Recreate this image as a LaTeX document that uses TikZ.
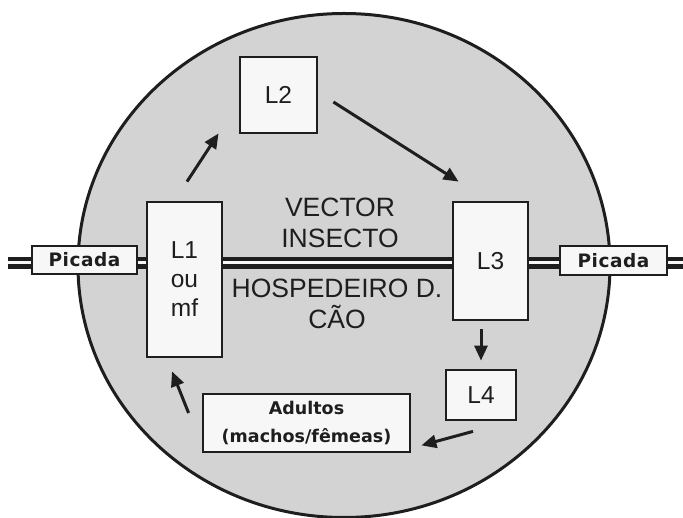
\documentclass[tikz,border=0pt]{standalone}
\usepackage{fontspec}
\setmainfont{Liberation Sans}
\newfontfamily\dejavu{DejaVu Sans}
\usetikzlibrary{arrows.meta}
\definecolor{linec}{HTML}{1E1E1E}
\definecolor{hostc}{HTML}{D3D3D3}
\definecolor{boxc}{HTML}{F7F7F7}
\begin{document}
\begin{tikzpicture}[x=1pt,y=-1pt,
  stage/.style={draw=linec,line width=2.8pt,fill=boxc,inner sep=0pt,align=center,
    font=\fontsize{24.5}{29}\selectfont,text=linec},
  label/.style={draw=linec,line width=2.8pt,fill=boxc,inner sep=0pt,align=center,
    text=linec},
  rail/.style={draw=linec,line width=4.5pt,double=boxc,double distance=3pt},
  arr/.style={draw=linec,line width=3pt,-{Triangle[length=15pt,width=13pt]}},
  txt/.style={align=center,inner sep=0pt,font=\fontsize{26.5}{31}\selectfont,text=linec}]
\useasboundingbox (0,0) rectangle (683,518);
\fill[white] (0,0) rectangle (683,518);
\draw[draw=linec,fill=hostc,line width=3pt] (344,265.5) ellipse [x radius=266, y radius=252];
% nodes
\node[stage,minimum width=77pt,minimum height=76pt] (L2) at (278.5,95) {L2};
\node[stage,minimum width=75pt,minimum height=155pt] (L1) at (184.5,279.5) {L1\\ou\\mf};
\node[stage,minimum width=75pt,minimum height=118pt] (L3) at (490.5,261) {L3};
\node[stage,minimum width=70pt,minimum height=50pt] (L4) at (481,395) {L4};
\node[label,minimum width=207pt,minimum height=58pt,
  font=\dejavu\bfseries\fontsize{17.5}{28}\selectfont] (ad) at (306.5,423) {Adultos\\(machos/fêmeas)};
\node[label,minimum width=105pt,minimum height=28pt,
  font={\dejavu\bfseries\fontsize{18.5}{22}\selectfont\addfontfeature{LetterSpace=3}}] (pl) at (84.5,260) {Picada};
\node[label,minimum width=107pt,minimum height=29pt,
  font={\dejavu\bfseries\fontsize{18.5}{22}\selectfont\addfontfeature{LetterSpace=3}}] (pr) at (613.5,260.5) {Picada};
\node[txt] (vec) at (340,223) {VECTOR\\INSECTO};
\node[txt] (hos) at (337,304) {HOSPEDEIRO D.\\CÃO};
% rails
\coordinate (rl) at (8,263);
\coordinate (rr) at (690,263);
\draw[rail] (rl) -- (rl -| pl.west);
\draw[rail] (pl.east |- rl) -- (rl -| L1.west);
\draw[rail] (L1.east |- rl) -- (rl -| L3.west);
\draw[rail] (L3.east |- rl) -- (rl -| pr.west);
\draw[rail] (pr.east |- rl) -- (rr);
% arrows
\draw[arr] ([shift={(2.5,-19)}]L1.north) -- ([shift={(-20,-1)}]L2.south west);
\draw[arr] ([shift={(15,7)}]L2.east) -- ([shift={(7,-19)}]L3.north west);
\draw[arr] ([shift={(-9.5,8)}]L3.south) -- ([shift={(0,-8)}]L4.north);
\draw[arr] ([shift={(-8,10)}]L4.south) -- ([shift={(10,-8)}]ad.south east);
\draw[arr] ([shift={(-13,-10)}]ad.west) -- ([shift={(-12.5,13)}]L1.south);
\end{tikzpicture}
\end{document}
